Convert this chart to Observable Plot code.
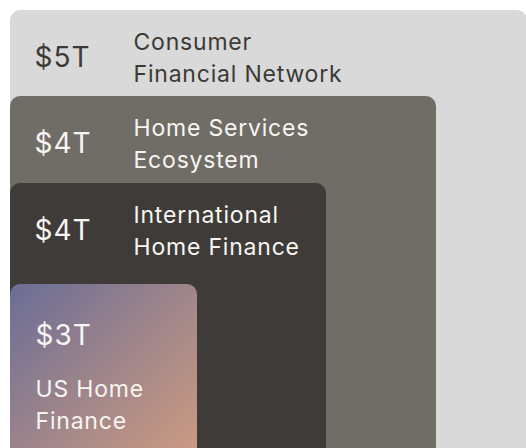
<!DOCTYPE html>
<html>
<head>
<meta charset="utf-8">
<script src="https://cdn.jsdelivr.net/npm/d3@7"></script>
<script src="https://cdn.jsdelivr.net/npm/@observablehq/plot@0.6"></script>
<style>
  html, body { margin: 0; padding: 0; background: #ffffff; overflow: hidden; }
  #chart svg { display: block; }
  #chart .label, #chart .label text, #chart .label tspan { letter-spacing: 0.8px; }
  #chart .value, #chart .value text { letter-spacing: 1px; }
</style>
</head>
<body>
<div id="chart"></div>
<script>
// Data
const levels = ["Consumer Financial Network", "Home Services Ecosystem", "International Home Finance", "US Home Finance"];
const labels = ["Consumer\nFinancial Network", "Home Services\nEcosystem", "International\nHome Finance", "US Home\nFinance"];
const values = ["$5T", "$4T", "$4T", "$3T"];
const depth = [0, 1, 2, 3];

// Styles
const palette = ["#d9d9d9", "#706d66", "#3f3b38", "url(#usgrad)"];
const darkText = "#3d3935";
const lightText = "#f7f5f2";

const data = levels.map((name, i) => ({name, label: labels[i], value: values[i], depth: depth[i]}));
const outer = depth.length; // nesting extent

const chart = Plot.plot({
  width: 526,
  height: 448,
  margin: 0,
  x: {type: "linear", domain: [0, 1, 2, 3, 4], range: [10, 197, 326, 436, 527], axis: null},
  y: {type: "linear", domain: [0, 1, 2, 3, 4], range: [10, 96, 183, 284, 470], axis: null},
  color: {domain: levels, range: palette},
  marks: [
    Plot.rect(data, {
      x1: d => 0,
      x2: d => outer - d.depth,
      y1: "depth",
      y2: d => outer,
      fill: "name",
      rx: 10
    }),
    // values for the side-by-side rows
    Plot.text(data.filter(d => d.depth < 3), {
      x: d => 0, y: "depth", text: "value",
      dx: 24, dy: 56, lineAnchor: "bottom", textAnchor: "start",
      fontSize: 28, fontFamily: "Inter", className: "value",
      fill: d => d.depth === 0 ? darkText : lightText
    }),
    Plot.text(data.filter(d => d.depth < 3), {
      x: d => 0, y: "depth", text: "label",
      dx: 123, dy: 71, lineAnchor: "bottom", textAnchor: "start", lineHeight: 1.37,
      fontSize: 23, fontFamily: "Inter", className: "label",
      fill: d => d.depth === 0 ? darkText : lightText
    }),
    // innermost stacked layout
    Plot.text(data.filter(d => d.depth === 3), {
      x: d => 0, y: "depth", text: "value",
      dx: 25, dy: 60, lineAnchor: "bottom", textAnchor: "start",
      fontSize: 28, fontFamily: "Inter", className: "value", fill: lightText
    }),
    Plot.text(data.filter(d => d.depth === 3), {
      x: d => 0, y: "depth", text: "label",
      dx: 25, dy: 144, lineAnchor: "bottom", textAnchor: "start", lineHeight: 1.37,
      fontSize: 23, fontFamily: "Inter", className: "label", fill: lightText
    })
  ]
});

d3.select(chart).insert("defs", ":first-child").html(
  '<linearGradient id="usgrad" x1="0" y1="0" x2="1" y2="1">' +
  '<stop offset="0" stop-color="#6a6d96"/>' +
  '<stop offset="0.5" stop-color="#a0868a"/>' +
  '<stop offset="1" stop-color="#d09c80"/>' +
  '</linearGradient>'
);

document.getElementById("chart").appendChild(chart);
</script>
</body>
</html>
